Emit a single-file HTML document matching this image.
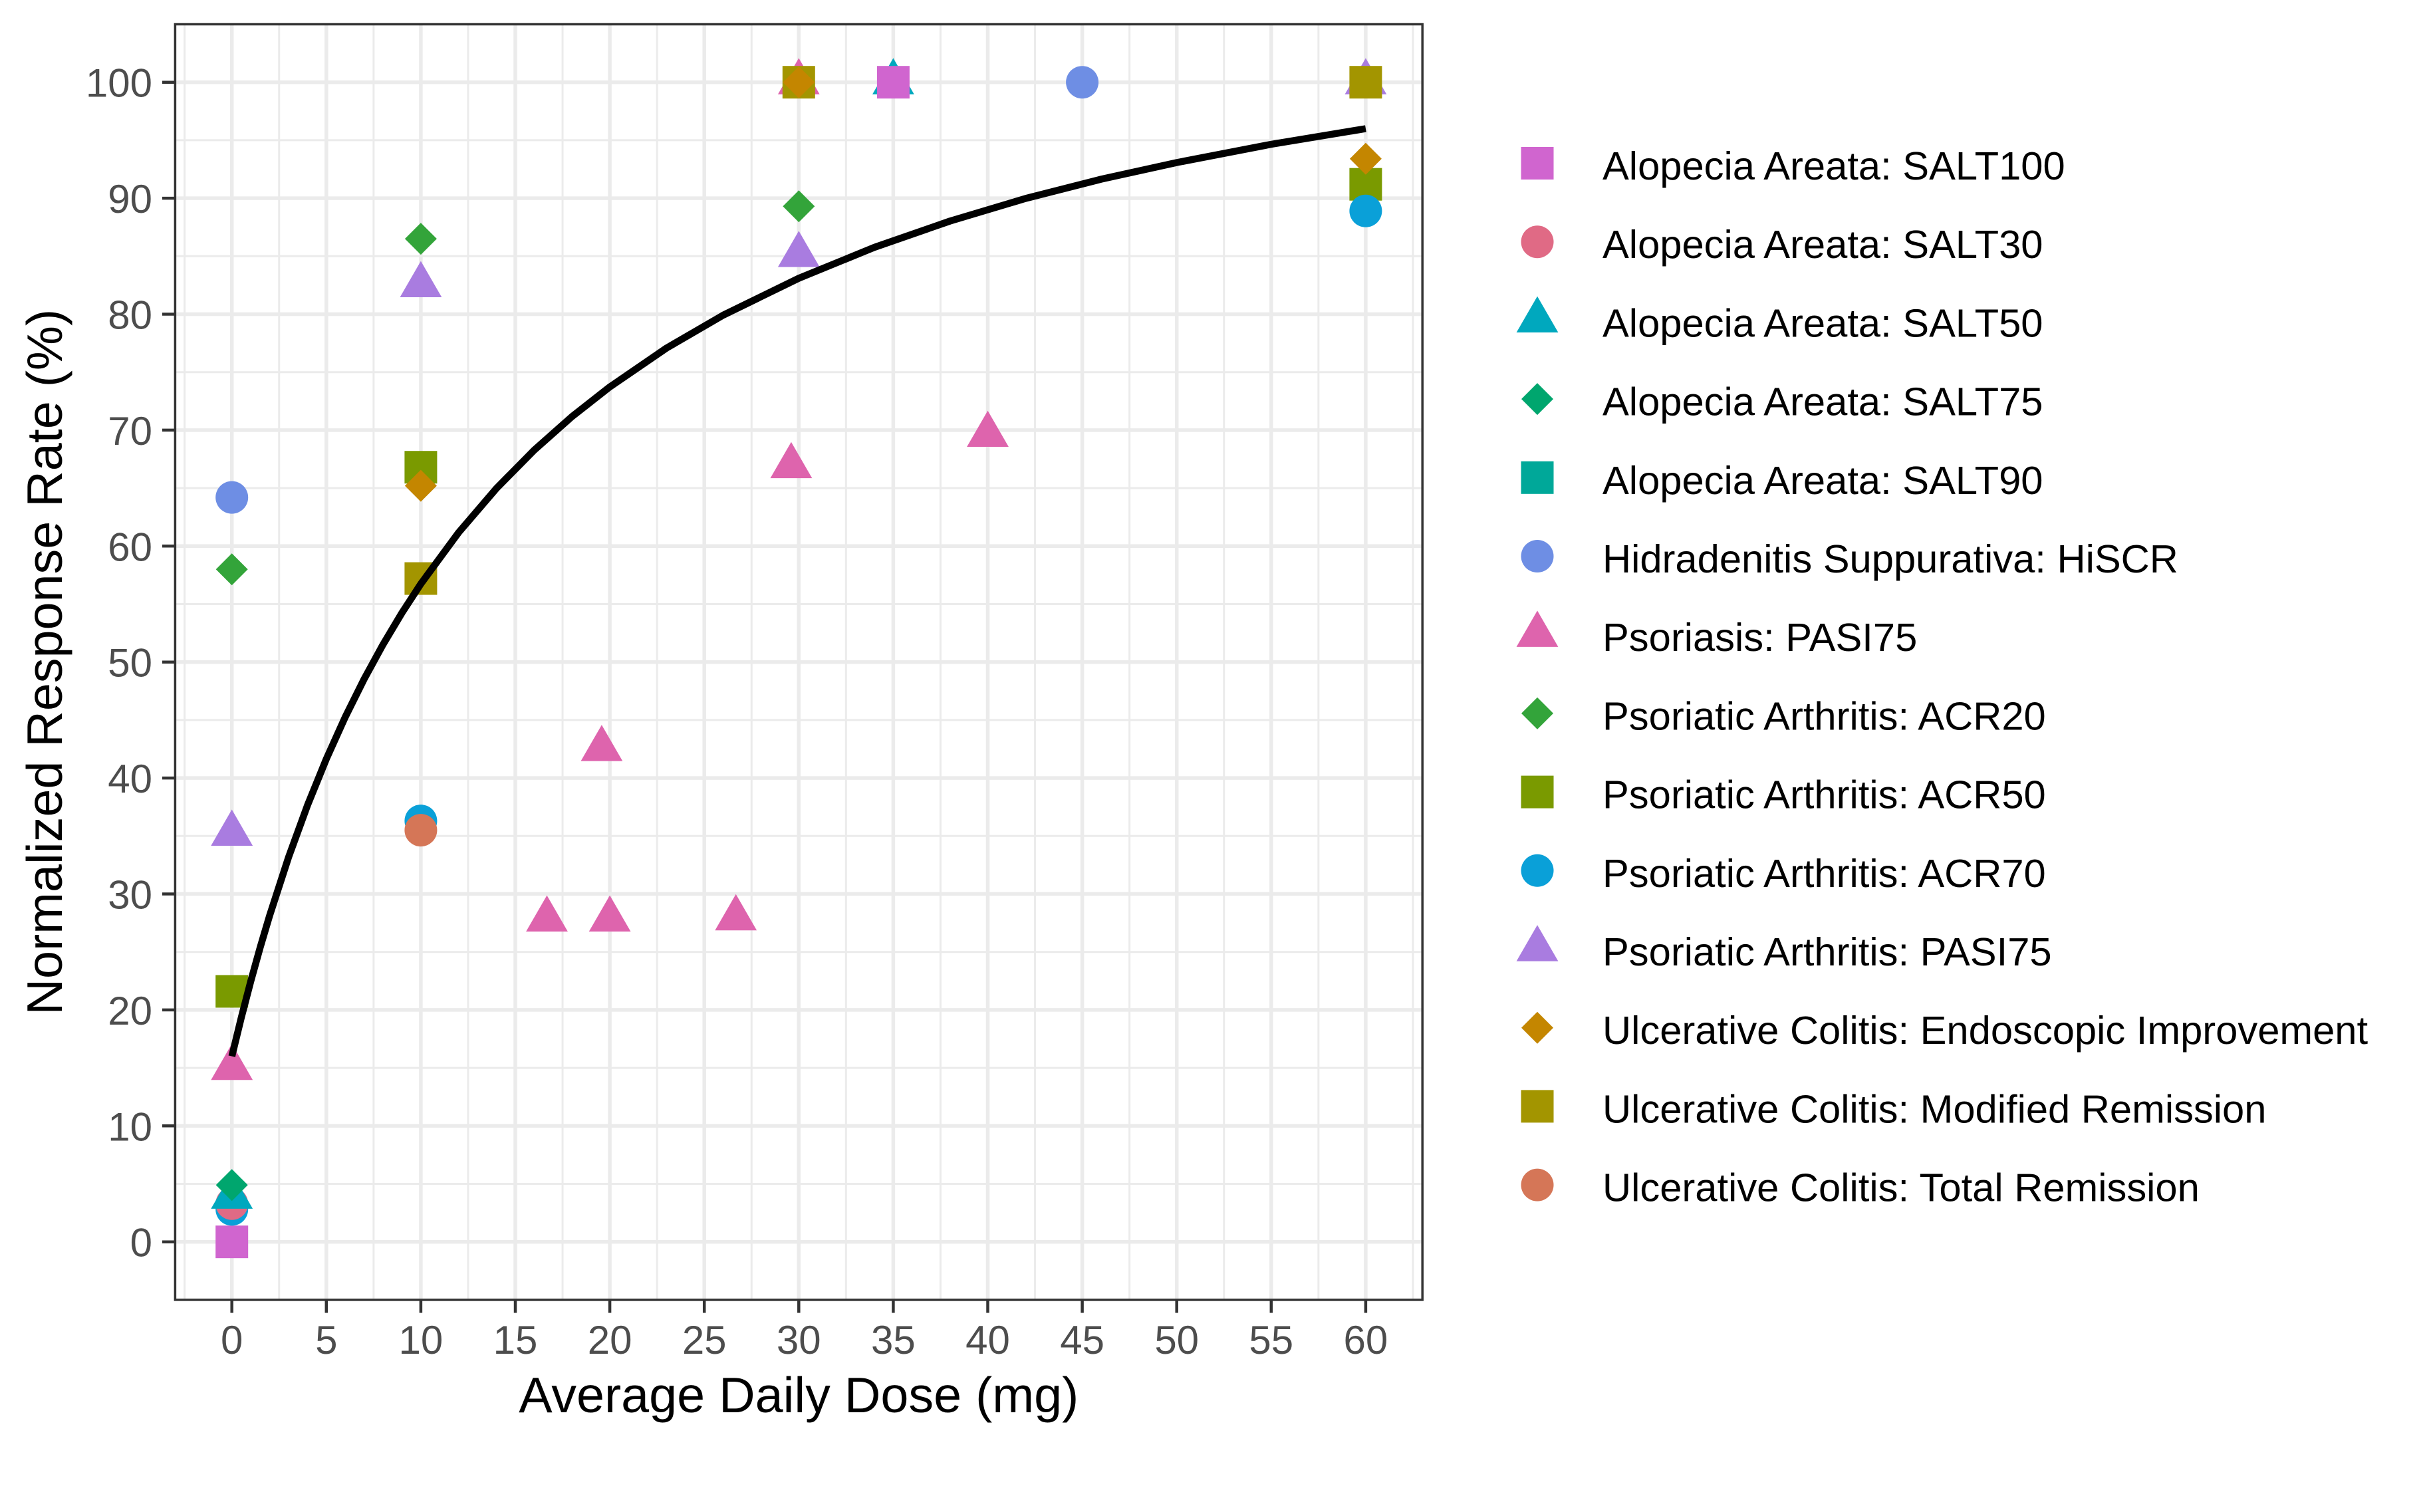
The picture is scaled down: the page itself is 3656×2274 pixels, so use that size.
<!DOCTYPE html>
<html><head><meta charset="utf-8"><style>
html,body{margin:0;padding:0;background:#fff;}
svg{display:block;}
text{font-family:"Liberation Sans",Arial,sans-serif;}
</style></head><body>
<svg width="3656" height="2274" viewBox="0 0 3656 2274" xmlns="http://www.w3.org/2000/svg">
<defs>
<rect id="sq" x="-24.5" y="-24.5" width="49" height="49"/>
<circle id="ci" cx="0" cy="0" r="24.5"/>
<polygon id="tr" points="0,-36.3 31.4,18.15 -31.4,18.15"/>
<polygon id="di" points="0,-24 24,0 0,24 -24,0"/>
</defs>
<rect x="0" y="0" width="3656" height="2274" fill="#fff"/>
<!-- minor grid -->
<g stroke="#EBEBEB" stroke-width="3">
<line x1="277.65" y1="36.5" x2="277.65" y2="1954.9"/><line x1="419.75" y1="36.5" x2="419.75" y2="1954.9"/><line x1="561.85" y1="36.5" x2="561.85" y2="1954.9"/><line x1="703.95" y1="36.5" x2="703.95" y2="1954.9"/><line x1="846.05" y1="36.5" x2="846.05" y2="1954.9"/><line x1="988.15" y1="36.5" x2="988.15" y2="1954.9"/><line x1="1130.25" y1="36.5" x2="1130.25" y2="1954.9"/><line x1="1272.35" y1="36.5" x2="1272.35" y2="1954.9"/><line x1="1414.45" y1="36.5" x2="1414.45" y2="1954.9"/><line x1="1556.55" y1="36.5" x2="1556.55" y2="1954.9"/><line x1="1698.65" y1="36.5" x2="1698.65" y2="1954.9"/><line x1="1840.75" y1="36.5" x2="1840.75" y2="1954.9"/><line x1="1982.85" y1="36.5" x2="1982.85" y2="1954.9"/><line x1="2124.95" y1="36.5" x2="2124.95" y2="1954.9"/>
<line x1="263.4" y1="1780.5" x2="2139.2" y2="1780.5"/><line x1="263.4" y1="1606.1" x2="2139.2" y2="1606.1"/><line x1="263.4" y1="1431.7" x2="2139.2" y2="1431.7"/><line x1="263.4" y1="1257.3" x2="2139.2" y2="1257.3"/><line x1="263.4" y1="1082.9" x2="2139.2" y2="1082.9"/><line x1="263.4" y1="908.5" x2="2139.2" y2="908.5"/><line x1="263.4" y1="734.1" x2="2139.2" y2="734.1"/><line x1="263.4" y1="559.7" x2="2139.2" y2="559.7"/><line x1="263.4" y1="385.3" x2="2139.2" y2="385.3"/><line x1="263.4" y1="210.9" x2="2139.2" y2="210.9"/>
</g>
<!-- major grid -->
<g stroke="#EBEBEB" stroke-width="5.5">
<line x1="348.7" y1="36.5" x2="348.7" y2="1954.9"/><line x1="490.8" y1="36.5" x2="490.8" y2="1954.9"/><line x1="632.9" y1="36.5" x2="632.9" y2="1954.9"/><line x1="775" y1="36.5" x2="775" y2="1954.9"/><line x1="917.1" y1="36.5" x2="917.1" y2="1954.9"/><line x1="1059.2" y1="36.5" x2="1059.2" y2="1954.9"/><line x1="1201.3" y1="36.5" x2="1201.3" y2="1954.9"/><line x1="1343.4" y1="36.5" x2="1343.4" y2="1954.9"/><line x1="1485.5" y1="36.5" x2="1485.5" y2="1954.9"/><line x1="1627.6" y1="36.5" x2="1627.6" y2="1954.9"/><line x1="1769.7" y1="36.5" x2="1769.7" y2="1954.9"/><line x1="1911.8" y1="36.5" x2="1911.8" y2="1954.9"/><line x1="2053.9" y1="36.5" x2="2053.9" y2="1954.9"/>
<line x1="263.4" y1="1867.7" x2="2139.2" y2="1867.7"/><line x1="263.4" y1="1693.3" x2="2139.2" y2="1693.3"/><line x1="263.4" y1="1518.9" x2="2139.2" y2="1518.9"/><line x1="263.4" y1="1344.5" x2="2139.2" y2="1344.5"/><line x1="263.4" y1="1170.1" x2="2139.2" y2="1170.1"/><line x1="263.4" y1="995.7" x2="2139.2" y2="995.7"/><line x1="263.4" y1="821.3" x2="2139.2" y2="821.3"/><line x1="263.4" y1="646.9" x2="2139.2" y2="646.9"/><line x1="263.4" y1="472.5" x2="2139.2" y2="472.5"/><line x1="263.4" y1="298.1" x2="2139.2" y2="298.1"/><line x1="263.4" y1="123.7" x2="2139.2" y2="123.7"/>
</g>
<!-- points -->
<g>
<use href="#sq" x="348.7" y="1867.7" fill="#D065CF"/>
<use href="#ci" x="348.7" y="1818.9" fill="#0AA0D8"/>
<use href="#ci" x="348.7" y="1810.2" fill="#E06A85"/>
<use href="#tr" x="348.7" y="1799.7" fill="#00A8BE"/>
<use href="#di" x="348.7" y="1782.2" fill="#00A66E"/>
<use href="#tr" x="348.7" y="1606.1" fill="#DE64AD"/>
<use href="#sq" x="348.7" y="1491.0" fill="#7A9A00"/>
<use href="#tr" x="348.7" y="1253.8" fill="#A97CE0"/>
<use href="#di" x="348.7" y="856.2" fill="#33A43A"/>
<use href="#ci" x="348.7" y="748.1" fill="#6E8EE4"/>
<use href="#di" x="632.9" y="359.1" fill="#33A43A"/>
<use href="#tr" x="632.9" y="428.9" fill="#A97CE0"/>
<use href="#sq" x="632.9" y="702.7" fill="#7A9A00"/>
<use href="#di" x="632.9" y="730.6" fill="#C48600"/>
<use href="#sq" x="632.9" y="870.1" fill="#A39500"/>
<use href="#ci" x="632.9" y="1234.6" fill="#0AA0D8"/>
<use href="#ci" x="632.9" y="1248.6" fill="#D57657"/>
<use href="#tr" x="822.5" y="1382.9" fill="#DE64AD"/>
<use href="#tr" x="917.1" y="1382.9" fill="#DE64AD"/>
<use href="#tr" x="1106.7" y="1381.1" fill="#DE64AD"/>
<use href="#tr" x="904.9" y="1126.5" fill="#DE64AD"/>
<use href="#tr" x="1189.9" y="701.0" fill="#DE64AD"/>
<use href="#tr" x="1485.5" y="653.9" fill="#DE64AD"/>
<use href="#tr" x="1201.3" y="123.7" fill="#DE64AD"/>
<use href="#sq" x="1201.3" y="123.7" fill="#A39500"/>
<use href="#di" x="1201.3" y="123.7" fill="#C48600"/>
<use href="#di" x="1201.3" y="310.3" fill="#33A43A"/>
<use href="#tr" x="1201.3" y="383.5" fill="#A97CE0"/>
<use href="#tr" x="1343.4" y="123.7" fill="#00A8BE"/>
<use href="#sq" x="1343.4" y="123.7" fill="#D065CF"/>
<use href="#ci" x="1627.6" y="123.7" fill="#6E8EE4"/>
<use href="#tr" x="2053.9" y="123.7" fill="#A97CE0"/>
<use href="#sq" x="2053.9" y="123.7" fill="#A39500"/>
<use href="#sq" x="2053.9" y="277.2" fill="#7A9A00"/>
<use href="#di" x="2053.9" y="238.8" fill="#C48600"/>
<use href="#ci" x="2053.9" y="317.3" fill="#0AA0D8"/>
</g>
<!-- curve -->
<polyline fill="none" stroke="#000" stroke-width="10.5" stroke-linejoin="round" points="348.7,1588.66 362.91,1530.32 377.12,1475.81 391.33,1424.74 405.54,1376.82 433.96,1289.25 462.38,1211.28 490.8,1141.36 519.22,1078.35 547.64,1021.25 576.06,969.26 604.48,921.75 632.9,878.14 689.74,800.88 746.58,734.54 803.42,676.95 860.26,626.5 917.1,581.92 1002.36,523.5 1087.62,474 1201.3,418.5 1314.98,372 1428.66,332.5 1542.34,298.5 1656.02,269.5 1769.7,244.5 1911.8,217 2053.9,193.5"/>
<!-- panel border -->
<rect x="263.4" y="36.5" width="1875.8" height="1918.4" fill="none" stroke="#333333" stroke-width="3.5"/>
<!-- ticks -->
<g stroke="#333333" stroke-width="4.5">
<line x1="244" y1="1867.7" x2="263.4" y2="1867.7"/><line x1="244" y1="1693.3" x2="263.4" y2="1693.3"/><line x1="244" y1="1518.9" x2="263.4" y2="1518.9"/><line x1="244" y1="1344.5" x2="263.4" y2="1344.5"/><line x1="244" y1="1170.1" x2="263.4" y2="1170.1"/><line x1="244" y1="995.7" x2="263.4" y2="995.7"/><line x1="244" y1="821.3" x2="263.4" y2="821.3"/><line x1="244" y1="646.9" x2="263.4" y2="646.9"/><line x1="244" y1="472.5" x2="263.4" y2="472.5"/><line x1="244" y1="298.1" x2="263.4" y2="298.1"/><line x1="244" y1="123.7" x2="263.4" y2="123.7"/>
<line x1="348.7" y1="1954.9" x2="348.7" y2="1974.5"/><line x1="490.8" y1="1954.9" x2="490.8" y2="1974.5"/><line x1="632.9" y1="1954.9" x2="632.9" y2="1974.5"/><line x1="775" y1="1954.9" x2="775" y2="1974.5"/><line x1="917.1" y1="1954.9" x2="917.1" y2="1974.5"/><line x1="1059.2" y1="1954.9" x2="1059.2" y2="1974.5"/><line x1="1201.3" y1="1954.9" x2="1201.3" y2="1974.5"/><line x1="1343.4" y1="1954.9" x2="1343.4" y2="1974.5"/><line x1="1485.5" y1="1954.9" x2="1485.5" y2="1974.5"/><line x1="1627.6" y1="1954.9" x2="1627.6" y2="1974.5"/><line x1="1769.7" y1="1954.9" x2="1769.7" y2="1974.5"/><line x1="1911.8" y1="1954.9" x2="1911.8" y2="1974.5"/><line x1="2053.9" y1="1954.9" x2="2053.9" y2="1974.5"/>
</g>
<!-- y tick labels -->
<g font-size="60" fill="#4D4D4D" text-anchor="end">
<text x="229" y="1889.7">0</text><text x="229" y="1715.3">10</text><text x="229" y="1540.9">20</text><text x="229" y="1366.5">30</text><text x="229" y="1192.1">40</text><text x="229" y="1017.7">50</text><text x="229" y="843.3">60</text><text x="229" y="668.9">70</text><text x="229" y="494.5">80</text><text x="229" y="320.1">90</text><text x="229" y="145.7">100</text>
</g>
<!-- x tick labels -->
<g font-size="60" fill="#4D4D4D" text-anchor="middle">
<text x="348.7" y="2036">0</text><text x="490.8" y="2036">5</text><text x="632.9" y="2036">10</text><text x="775" y="2036">15</text><text x="917.1" y="2036">20</text><text x="1059.2" y="2036">25</text><text x="1201.3" y="2036">30</text><text x="1343.4" y="2036">35</text><text x="1485.5" y="2036">40</text><text x="1627.6" y="2036">45</text><text x="1769.7" y="2036">50</text><text x="1911.8" y="2036">55</text><text x="2053.9" y="2036">60</text>
</g>
<!-- axis titles -->
<text x="1201.3" y="2124" font-size="75.5" fill="#000" text-anchor="middle">Average Daily Dose (mg)</text>
<text transform="translate(93,995.7) rotate(-90)" x="0" y="0" font-size="75.5" fill="#000" text-anchor="middle">Normalized Response Rate (%)</text>
<!-- legend -->
<g>
<use href="#sq" x="2312" y="245.5" fill="#D065CF"/>
<use href="#ci" x="2312" y="363.7" fill="#E06A85"/>
<use href="#tr" x="2312" y="481.9" fill="#00A8BE"/>
<use href="#di" x="2312" y="600.1" fill="#00A66E"/>
<use href="#sq" x="2312" y="718.3" fill="#00A899"/>
<use href="#ci" x="2312" y="836.5" fill="#6E8EE4"/>
<use href="#tr" x="2312" y="954.7" fill="#DE64AD"/>
<use href="#di" x="2312" y="1072.9" fill="#33A43A"/>
<use href="#sq" x="2312" y="1191.1" fill="#7A9A00"/>
<use href="#ci" x="2312" y="1309.3" fill="#0AA0D8"/>
<use href="#tr" x="2312" y="1427.5" fill="#A97CE0"/>
<use href="#di" x="2312" y="1545.7" fill="#C48600"/>
<use href="#sq" x="2312" y="1663.9" fill="#A39500"/>
<use href="#ci" x="2312" y="1782.1" fill="#D57657"/>
</g>
<g font-size="59.7" fill="#000">
<text x="2410" y="270">Alopecia Areata: SALT100</text>
<text x="2410" y="388.2">Alopecia Areata: SALT30</text>
<text x="2410" y="506.4">Alopecia Areata: SALT50</text>
<text x="2410" y="624.6">Alopecia Areata: SALT75</text>
<text x="2410" y="742.8">Alopecia Areata: SALT90</text>
<text x="2410" y="861">Hidradenitis Suppurativa: HiSCR</text>
<text x="2410" y="979.2">Psoriasis: PASI75</text>
<text x="2410" y="1097.4">Psoriatic Arthritis: ACR20</text>
<text x="2410" y="1215.6">Psoriatic Arthritis: ACR50</text>
<text x="2410" y="1333.8">Psoriatic Arthritis: ACR70</text>
<text x="2410" y="1452">Psoriatic Arthritis: PASI75</text>
<text x="2410" y="1570.2">Ulcerative Colitis: Endoscopic Improvement</text>
<text x="2410" y="1688.4">Ulcerative Colitis: Modified Remission</text>
<text x="2410" y="1806.6">Ulcerative Colitis: Total Remission</text>
</g>
</svg>
</body></html>
